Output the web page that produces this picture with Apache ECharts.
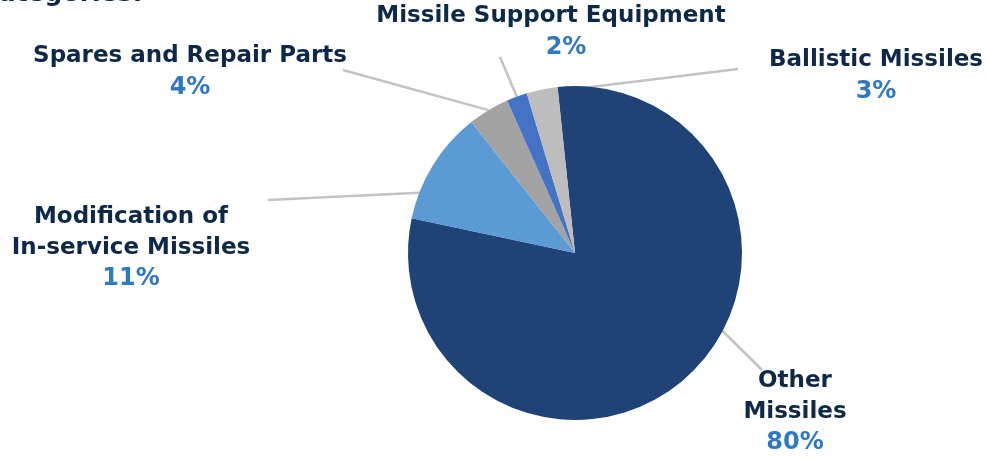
<!DOCTYPE html>
<html>
<head>
<meta charset="utf-8">
<script src="https://cdn.jsdelivr.net/npm/echarts@6/dist/echarts.min.js"></script>
<style>
  html, body { margin: 0; padding: 0; background: #ffffff; }
  #chart { width: 988px; height: 458px; }
</style>
</head>
<body>
<div id="chart"></div>
<script>
// Missile procurement split by category (percent of total)
const categories = [
  'Other\nMissiles',
  'Modification of\nIn-service Missiles',
  'Spares and Repair Parts',
  'Missile Support Equipment',
  'Ballistic Missiles'
];
const shares = [80, 11, 4, 2, 3];
const sliceColors = ['#1f4277', '#5b9bd5', '#a3a3a3', '#4472c4', '#bdbdbd'];

const NAVY = '#0d2848';
const BLUE = '#2e79c3';
const FONT = 'DejaVu Sans';

const CX = 575, CY = 253, R = 167, START = 96;
const total = shares.reduce((a, b) => a + b, 0);

// Where each leader line meets its slice (fraction of the slice sweep)
// and where it ends next to the label; plus the label block centre.
const guides = [
  { frac: 0.43, rad: 1.0, end: [762, 370], at: [795, 412] },
  { frac: 0.23, rad: 1.0, end: [268, 200], at: [131, 248] },
  { frac: 0.5, rad: 1.0, end: [343, 70], at: [190, 72] },
  { frac: 0.5, rad: 1.0, end: [500, 57], at: [551, 32] },
  { frac: 0.74, rad: 0.975, end: [738, 69], at: [876, 76] }
];

function slicePoint(i, frac, rad) {
  let before = 0;
  for (let k = 0; k < i; k++) before += shares[k];
  const deg = START - 360 * (before + frac * shares[i]) / total;
  const a = deg * Math.PI / 180;
  return [CX + R * rad * Math.cos(a), CY - R * rad * Math.sin(a)];
}

const data = categories.map((name, i) => {
  const item = { name: name, value: shares[i], itemStyle: { color: sliceColors[i] } };
  if (i === 3) {
    item.label = { rich: { p: { padding: [0, 0, 0, 30] } } };
  }
  return item;
});

const chart = echarts.init(document.getElementById('chart'), null, { renderer: 'canvas' });
chart.setOption({
  animation: false,
  backgroundColor: '#ffffff',
  graphic: [{
    type: 'text',
    left: -16,
    top: -18,
    style: { text: 'categories:', font: 'bold 25px "' + FONT + '"', fill: NAVY }
  }],
  series: [{
    type: 'pie',
    center: [CX, CY],
    radius: [0, R],
    startAngle: START,
    clockwise: true,
    data: data,
    label: {
      show: true,
      position: 'outside',
      formatter: p => '{n|' + p.name + '}\n{p|' + p.value + '%}',
      rich: {
        n: { fontFamily: FONT, fontWeight: 'bold', fontSize: 23, color: NAVY, lineHeight: 31, align: 'center' },
        p: { fontFamily: FONT, fontWeight: 'bold', fontSize: 24, color: BLUE, lineHeight: 31, align: 'center' }
      }
    },
    labelLine: {
      show: true,
      lineStyle: { color: '#c3c3c3', width: 2.5 }
    },
    labelLayout: function (params) {
      const g = guides[params.dataIndex];
      return {
        x: g.at[0],
        y: g.at[1],
        align: 'center',
        verticalAlign: 'middle',
        labelLinePoints: [slicePoint(params.dataIndex, g.frac, g.rad), g.end, g.end]
      };
    },
    emphasis: { disabled: true }
  }]
});
</script>
</body>
</html>
